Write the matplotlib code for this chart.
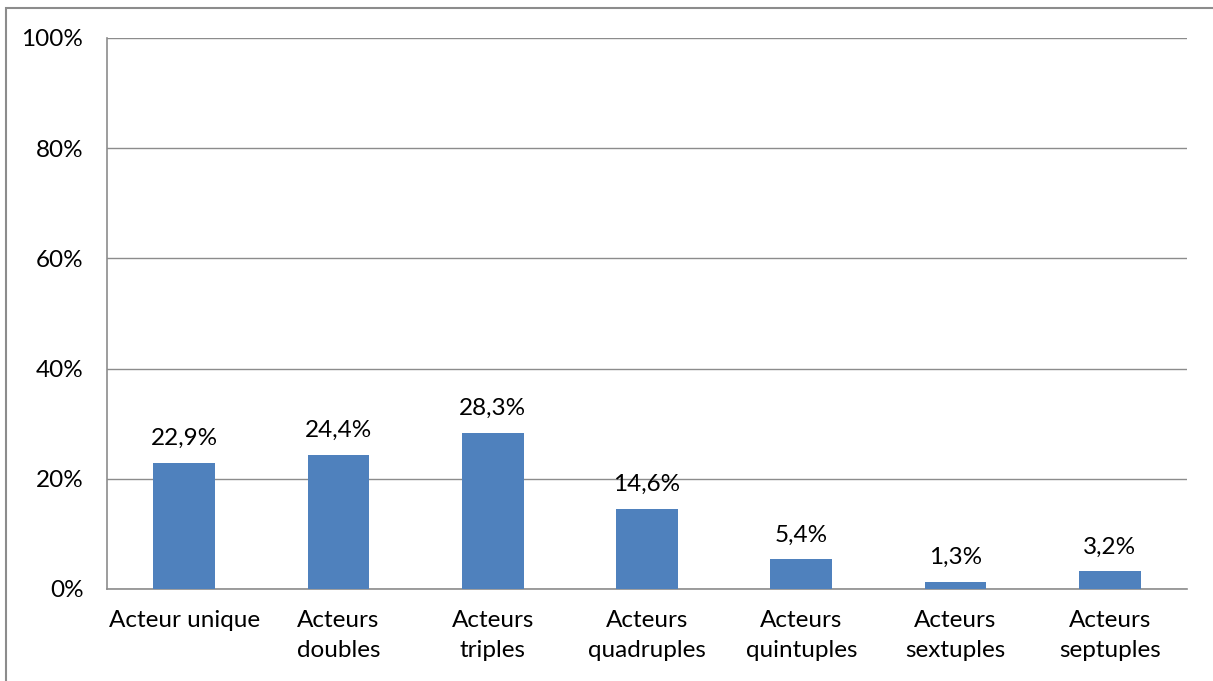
import matplotlib
matplotlib.use("Agg")
import matplotlib.pyplot as plt
from matplotlib.patches import Rectangle

categories = ["Acteur unique", "Acteurs\ndoubles", "Acteurs\ntriples", "Acteurs\nquadruples",
              "Acteurs\nquintuples", "Acteurs\nsextuples", "Acteurs\nseptuples"]
values = [22.9, 24.4, 28.3, 14.6, 5.4, 1.3, 3.2]
labels = ["22,9%", "24,4%", "28,3%", "14,6%", "5,4%", "1,3%", "3,2%"]
yticks = [0, 20, 40, 60, 80, 100]

plt.rcParams['font.family'] = ['Lato', 'DejaVu Sans']
fs = 17.5

fig = plt.figure(figsize=(12.13, 6.81), dpi=100)
ax = fig.add_axes([0.0882, 0.1351, 0.8904, 0.8091])

x = range(len(categories))
ax.bar(x, values, width=0.4, color="#4F81BD", zorder=3)
for i, v in enumerate(values):
    ax.annotate(labels[i], (i, v), xytext=(0, 10), textcoords="offset points",
                ha="center", va="bottom", fontsize=fs)

ax.set_xlim(-0.5, len(categories) - 0.5)
ax.set_ylim(0, 100)
ax.set_yticks(yticks)
ax.set_yticklabels([f"{t}%" for t in yticks], fontsize=fs)
ax.set_xticks(list(x))
ax.set_xticklabels(categories, fontsize=fs, linespacing=1.55)
ax.tick_params(axis="y", length=0, pad=17)
ax.tick_params(axis="x", length=0, pad=15)
ax.grid(axis="y", color="#8C8C8C", linewidth=1, zorder=0)
for s in ax.spines.values():
    s.set_color("#8C8C8C")
    s.set_linewidth(1.2)
ax.spines["right"].set_visible(False)
ax.spines["top"].set_visible(False)

fig.patches.append(Rectangle((6 / 1213, -0.01), 1.02, 1 - 8 / 681 + 0.01, transform=fig.transFigure,
                             fill=False, edgecolor="#8C8C8C", linewidth=1.5))

fig.savefig("out.png", dpi=100)
